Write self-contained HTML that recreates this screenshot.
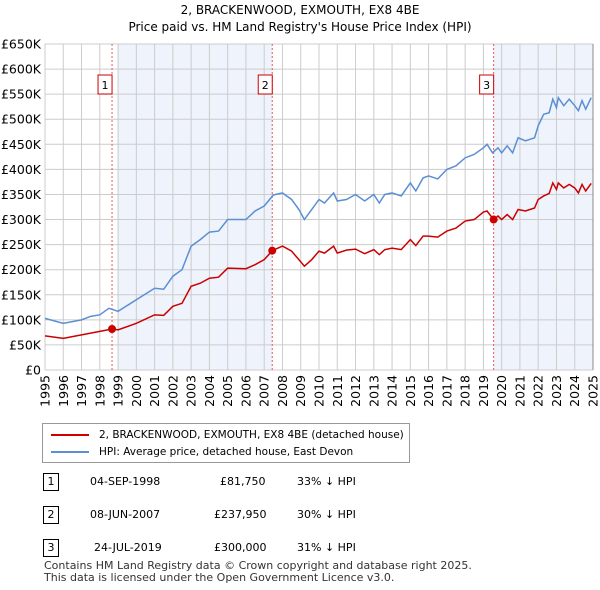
<!DOCTYPE html>
<html><head><meta charset="utf-8"><style>
body{margin:0;background:#fff;font-family:"DejaVu Sans","Liberation Sans",sans-serif;}
#wrap{position:relative;width:600px;height:590px;overflow:hidden;}
.t{position:absolute;font-size:11px;color:#000;white-space:nowrap;}
</style></head><body>
<div id="wrap">
<svg id="chart" width="600" height="420" style="position:absolute;left:0;top:0"></svg>
<div style="position:absolute;left:42px;top:423px;width:366px;height:38px;border:1px solid #999;">
  <div style="position:absolute;left:8px;top:5px;font-size:10.5px;"><span style="display:inline-block;width:38px;height:2px;background:#cc0000;vertical-align:middle;margin-right:10px"></span>2, BRACKENWOOD, EXMOUTH, EX8 4BE (detached house)</div>
  <div style="position:absolute;left:8px;top:22px;font-size:10.5px;"><span style="display:inline-block;width:38px;height:2px;background:#5b8fd4;vertical-align:middle;margin-right:10px"></span>HPI: Average price, detached house, East Devon</div>
</div>
<div>
<div class="t" style="left:43px;top:473px;border:1px solid #000;width:14px;height:16px;text-align:center;line-height:16px">1</div>
<div class="t" style="left:90px;top:475px">04-SEP-1998</div>
<div class="t" style="left:220px;top:475px">£81,750</div>
<div class="t" style="left:297px;top:475px">33% ↓ HPI</div></div>
<div>
<div class="t" style="left:43px;top:506px;border:1px solid #000;width:14px;height:16px;text-align:center;line-height:16px">2</div>
<div class="t" style="left:90px;top:508px">08-JUN-2007</div>
<div class="t" style="left:214px;top:508px">£237,950</div>
<div class="t" style="left:297px;top:508px">30% ↓ HPI</div></div>
<div>
<div class="t" style="left:43px;top:539px;border:1px solid #000;width:14px;height:16px;text-align:center;line-height:16px">3</div>
<div class="t" style="left:94px;top:541px">24-JUL-2019</div>
<div class="t" style="left:214px;top:541px">£300,000</div>
<div class="t" style="left:297px;top:541px">31% ↓ HPI</div></div>
<div class="t" style="left:44px;top:560px;color:#333;line-height:12px">Contains HM Land Registry data © Crown copyright and database right 2025.<br>This data is licensed under the Open Government Licence v3.0.</div>
</div>
<script>
const hpiYears=[1995,1996,1997,1997.5,1998,1998.5,1999,2000,2001,2001.5,2002,2002.5,2003,2003.5,2004,2004.5,2005,2006,2006.5,2007,2007.5,2008,2008.5,2008.9,2009.2,2009.6,2010,2010.3,2010.8,2011,2011.5,2012,2012.5,2013,2013.3,2013.6,2014,2014.5,2015,2015.3,2015.7,2016,2016.5,2017,2017.5,2018,2018.5,2019,2019.2,2019.5,2019.8,2020,2020.3,2020.6,2020.9,2021.3,2021.8,2022,2022.3,2022.6,2022.8,2023,2023.1,2023.4,2023.7,2024,2024.2,2024.4,2024.6,2024.9];
const hpiValues=[103,93,100,107,110,123,117,140,163,161,187,200,247,260,275,277,300,300,317,327,349,353,340,320,300,320,340,333,353,337,340,350,337,350,333,350,353,347,373,357,383,387,381,400,407,423,430,443,450,433,443,433,447,433,463,457,463,487,510,513,540,523,543,527,540,527,517,537,520,543];
const priceYears=[1995,1996,1997,1998,1998.67,1999,2000,2001,2001.5,2002,2002.5,2003,2003.5,2004,2004.5,2005,2006,2006.5,2007,2007.44,2008,2008.5,2008.9,2009.2,2009.6,2010,2010.3,2010.8,2011,2011.5,2012,2012.5,2013,2013.3,2013.6,2014,2014.5,2015,2015.3,2015.7,2016,2016.5,2017,2017.5,2018,2018.5,2019,2019.2,2019.56,2019.8,2020,2020.3,2020.6,2020.9,2021.3,2021.8,2022,2022.3,2022.6,2022.8,2023,2023.1,2023.4,2023.7,2024,2024.2,2024.4,2024.6,2024.9];
const priceValues=[68,63,70,77,81.75,80,93,110,109,127,133,167,173,183,185,203,202,210,220,237.95,247,237,220,207,220,237,233,247,233,239,241,232,240,230,240,243,240,260,248,267,267,265,277,283,297,300,315,317,300,307,300,310,300,320,317,323,340,347,352,373,360,373,363,370,363,353,370,357,372];
const saleYears=[1998.67,2007.44,2019.56];
const saleValues=[81.75,237.95,300];
const saleLabels=["1","2","3"];
const yTicks=[0,50,100,150,200,250,300,350,400,450,500,550,600,650];
const xTicks=[1995,1996,1997,1998,1999,2000,2001,2002,2003,2004,2005,2006,2007,2008,2009,2010,2011,2012,2013,2014,2015,2016,2017,2018,2019,2020,2021,2022,2023,2024,2025];

const NS="http://www.w3.org/2000/svg";
const svg=document.getElementById('chart');
const L=45,R=593,T=44,B=370;
const FF='DejaVu Sans, Liberation Sans, sans-serif';
const x=y=>L+(y-1995)/30*(R-L);
const yS=v=>B-v/650*(B-T);
function mk(tag,attrs,name){const e=document.createElementNS(NS,tag);for(const k in attrs)e.setAttribute(k,attrs[k]);


svg.appendChild(e);return e;}
mk('text',{x:300,y:14,'text-anchor':'middle','font-size':12,'font-family':FF},'chart-title').textContent="2, BRACKENWOOD, EXMOUTH, EX8 4BE";
mk('text',{x:300,y:31,'text-anchor':'middle','font-size':12,'font-family':FF},'chart-subtitle').textContent="Price paid vs. HM Land Registry's House Price Index (HPI)";
mk('rect',{x:x(1999),y:T,width:x(saleYears[1])-x(1999),height:B-T,fill:'#eef3fc'},'shaded-period-1');
mk('rect',{x:x(saleYears[2]),y:T,width:R-x(saleYears[2]),height:B-T,fill:'#eef3fc'},'shaded-period-2');
yTicks.forEach(v=>{mk('line',{x1:L,x2:R,y1:yS(v),y2:yS(v),stroke:'#ccc'},'y-gridline');
const t=mk('text',{x:L-4,y:yS(v)+4.5,'text-anchor':'end','font-size':12.5,'font-family':FF},'y-tick-label');t.textContent=v===0?'£0':'£'+v+'K';});
xTicks.forEach(v=>{mk('line',{x1:x(v),x2:x(v),y1:T,y2:B,stroke:'#ccc'},'x-gridline');
const t=mk('text',{x:0,y:0,'text-anchor':'end','font-size':12.5,'font-family':FF,transform:`translate(${x(v)+4.5},${B+5}) rotate(-90)`},'x-tick-label');t.textContent=v;});
mk('line',{x1:R,x2:R,y1:T,y2:B,stroke:'#888'},'plot-right-edge');
saleYears.forEach((s,i)=>{mk('line',{x1:x(s),x2:x(s),y1:T,y2:B,stroke:'#e55','stroke-dasharray':'2,2'},'sale-vline');
mk('rect',{x:x(s)-14,y:T+31,width:14,height:19,fill:'#fff',stroke:'#c00'},'sale-marker-box');
const t=mk('text',{x:x(s)-7,y:T+45,'text-anchor':'middle','font-size':11,'font-family':FF},'sale-marker-label');t.textContent=saleLabels[i];});
mk('polyline',{points:hpiYears.map((v,i)=>x(v)+','+yS(hpiValues[i])).join(' '),fill:'none',stroke:'#5b8fd4','stroke-width':1.5},'hpi-line');
mk('polyline',{points:priceYears.map((v,i)=>x(v)+','+yS(priceValues[i])).join(' '),fill:'none',stroke:'#cc0000','stroke-width':1.5},'price-line');
saleYears.forEach((s,i)=>mk('circle',{cx:x(s),cy:yS(saleValues[i]),r:4,fill:'#cc0000'},'sale-point'));
</script>
</body></html>
